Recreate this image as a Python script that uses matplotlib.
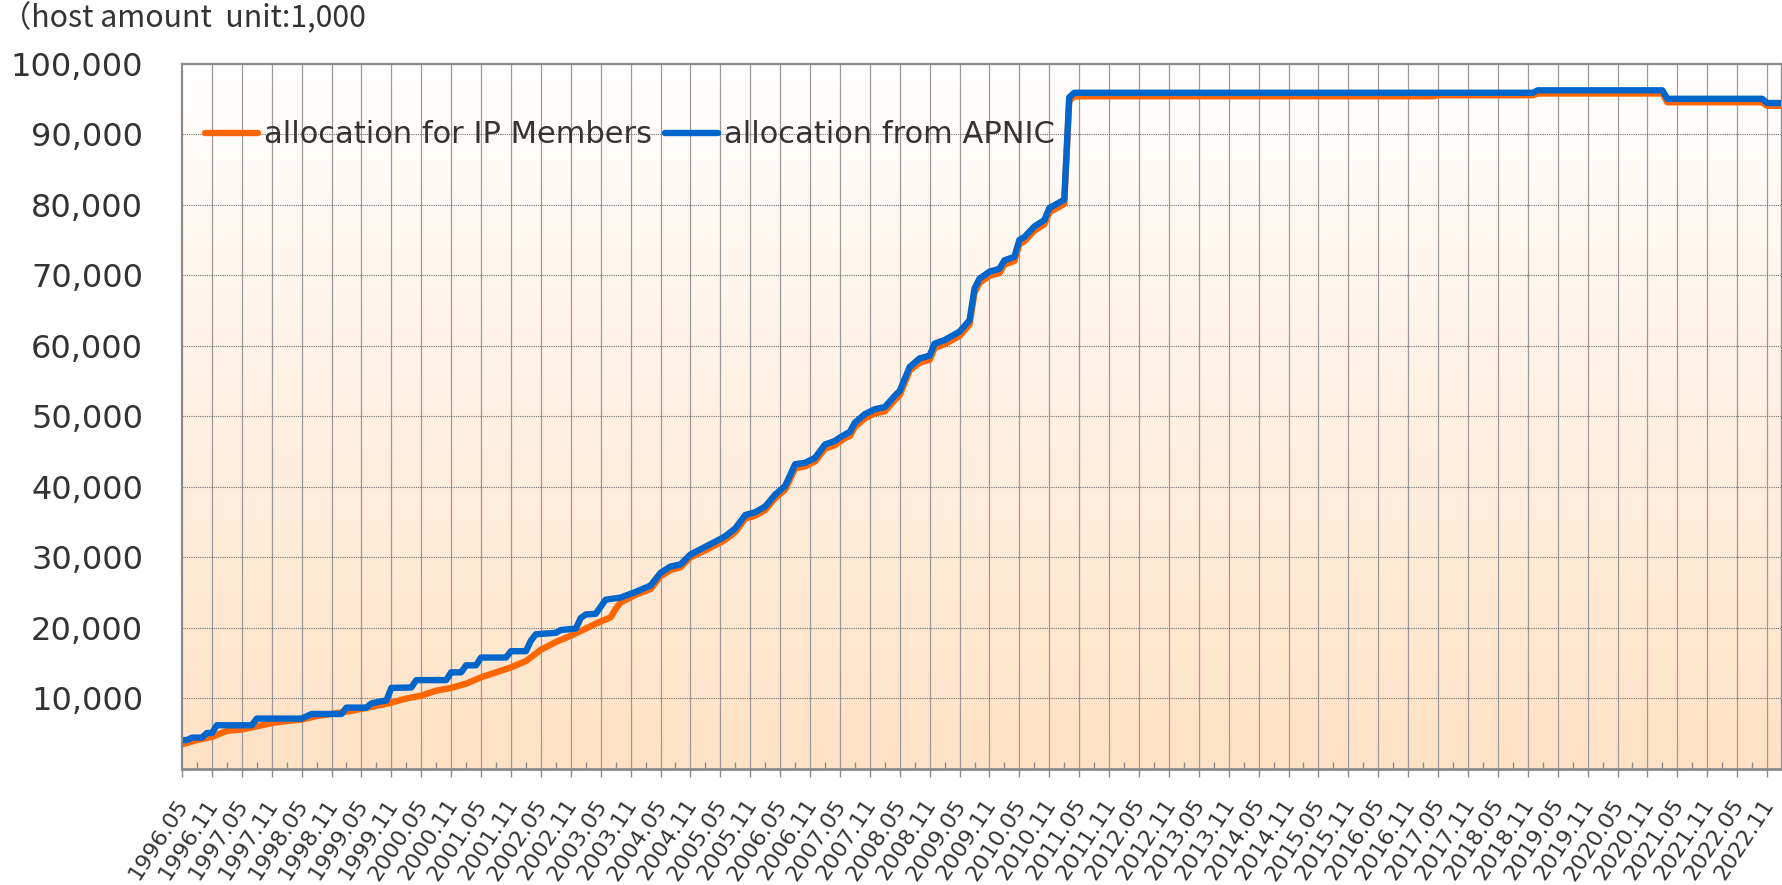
import matplotlib
matplotlib.use("Agg")
import matplotlib.pyplot as plt
import numpy as np
from matplotlib.ticker import FixedLocator, FuncFormatter
import matplotlib.transforms as mtransforms

# ---------------- data ----------------
title_text = "（host amount  unit:1,000"
series_names = ["allocation for IP Members", "allocation from APNIC"]

first_month = "1996.05"
last_month = "2023.02"

apnic_dates = [
    "1996.05", "1996.06", "1996.07", "1996.09", "1996.10", "1996.11", "1996.12",
    "1997.07", "1997.08", "1998.05", "1998.07", "1999.01", "1999.02", "1999.06",
    "1999.07", "1999.09", "1999.10", "1999.11", "2000.03", "2000.04", "2000.10",
    "2000.11", "2001.01", "2001.02", "2001.04", "2001.05", "2001.10", "2001.11",
    "2002.02", "2002.03", "2002.04", "2002.08", "2002.09", "2002.12", "2003.01",
    "2003.02", "2003.04", "2003.06", "2003.09", "2003.12", "2004.03", "2004.05",
    "2004.07", "2004.09", "2004.11", "2005.02", "2005.05", "2005.06", "2005.08",
    "2005.10", "2005.12", "2006.02", "2006.04", "2006.06", "2006.08", "2006.10",
    "2006.12", "2007.02", "2007.04", "2007.05", "2007.07", "2007.08", "2007.10",
    "2007.12", "2008.02", "2008.04", "2008.05", "2008.07", "2008.09", "2008.11",
    "2008.12", "2009.02", "2009.03", "2009.05", "2009.07", "2009.08", "2009.09",
    "2009.11", "2010.01", "2010.02", "2010.04", "2010.05", "2010.06", "2010.08",
    "2010.10", "2010.11", "2011.02", "2011.03", "2011.04", "2018.12", "2019.01",
    "2021.02", "2021.03", "2022.10", "2022.11", "2023.02",
]
apnic_values = [
    4100, 4100, 4450, 4450, 5100, 5100, 6200,
    6200, 7150, 7150, 7800, 7800, 8700, 8700,
    9300, 9600, 9700, 11500, 11550, 12600, 12600,
    13700, 13700, 14700, 14700, 15800, 15800, 16700,
    16700, 18200, 19100, 19300, 19700, 19900, 21400,
    21900, 22000, 24000, 24300, 25100, 26000, 27800,
    28700, 29000, 30400, 31500, 32600, 33000, 34100,
    36000, 36400, 37200, 38900, 40100, 43200, 43400,
    44100, 46000, 46500, 47000, 47800, 49100, 50300,
    51000, 51300, 52900, 53600, 57000, 58200, 58600,
    60300, 60800, 61200, 62000, 63600, 68100, 69500,
    70500, 70900, 72100, 72600, 75000, 75400, 76900,
    77800, 79500, 80700, 95200, 95850, 95850, 96200,
    96200, 95000, 95000, 94400, 94400,
]

members_dates = [
    "1996.05", "1996.08", "1996.11", "1997.02", "1997.05", "1997.07", "1997.09",
    "1997.11", "1998.02", "1998.05", "1998.08", "1998.11", "1999.03", "1999.07",
    "1999.11", "2000.02", "2000.05", "2000.08", "2000.11", "2001.02", "2001.05",
    "2001.08", "2001.11", "2002.02", "2002.05", "2002.08", "2002.11", "2003.02",
    "2003.04", "2003.07", "2003.08", "2003.09", "2003.12", "2004.03", "2004.05",
    "2004.07", "2004.09", "2004.11", "2005.02", "2005.05", "2005.06", "2005.08",
    "2005.10", "2005.12", "2006.02", "2006.04", "2006.06", "2006.08", "2006.10",
    "2006.12", "2007.02", "2007.04", "2007.06", "2007.07", "2007.08", "2007.10",
    "2007.12", "2008.02", "2008.04", "2008.05", "2008.07", "2008.09", "2008.11",
    "2008.12", "2009.02", "2009.03", "2009.05", "2009.07", "2009.08", "2009.09",
    "2009.11", "2010.01", "2010.02", "2010.04", "2010.05", "2010.06", "2010.08",
    "2010.10", "2010.11", "2011.02", "2011.03", "2011.04", "2017.04", "2017.05",
    "2018.12", "2019.01", "2021.02", "2021.03", "2022.10", "2022.11", "2023.02",
]
members_values = [
    3500, 4100, 4550, 5400, 5600, 5900, 6200,
    6500, 6800, 7000, 7500, 7800, 8250, 8800,
    9400, 10000, 10400, 11100, 11500, 12100, 13000,
    13700, 14400, 15300, 16900, 18000, 18900, 19900,
    20600, 21500, 22700, 23600, 24700, 25500, 27300,
    28200, 28600, 30000, 31000, 32100, 32500, 33600,
    35500, 35900, 36700, 38400, 39600, 42600, 42900,
    43600, 45400, 45900, 46900, 47200, 48500, 49700,
    50400, 50700, 52300, 53000, 56500, 57600, 58000,
    59700, 60200, 60600, 61400, 63000, 67500, 68900,
    69900, 70300, 71500, 72000, 74400, 74800, 76300,
    77200, 78900, 80100, 94700, 95350, 95350, 95500,
    95500, 95750, 95750, 94500, 94500, 94000, 94000,
]

y_ticks = [10000, 20000, 30000, 40000, 50000, 60000, 70000, 80000, 90000, 100000]

# ---------------- helpers ----------------
def month_index(s):
    y, m = s.split(".")
    y0, m0 = first_month.split(".")
    return (int(y) * 12 + int(m)) - (int(y0) * 12 + int(m0))

n_last = month_index(last_month)
major_pos = list(range(0, n_last + 1, 6))
major_labels = []
for p in major_pos:
    y0, m0 = first_month.split(".")
    tot = int(y0) * 12 + int(m0) - 1 + p
    major_labels.append(f"{tot // 12}.{tot % 12 + 1:02d}")
minor_pos = list(range(3, n_last + 1, 6))

# ---------------- figure ----------------
W, H = 1783, 885
fig = plt.figure(figsize=(W / 100, H / 100), dpi=100)
ax_left, ax_right, ax_top, ax_bottom = 182, 1782, 63.5, 769
ax = fig.add_axes([ax_left / W, 1 - ax_bottom / H,
                   (ax_right - ax_left) / W, (ax_bottom - ax_top) / H])

# gradient background
top_c = np.array([255, 255, 255]) / 255
bot_c = np.array([255, 226, 198]) / 255
t = np.linspace(0, 1, 256)[:, None]
grad = top_c[None, :] * (1 - t) + bot_c[None, :] * t
grad = np.repeat(grad[:, None, :], 2, axis=1)
ax.imshow(grad, extent=[0, 1, 0, 1], transform=ax.transAxes,
          aspect="auto", zorder=0, interpolation="bilinear")

ax.set_xlim(0, n_last)
ax.set_ylim(0, 100000)

# grid
for p in major_pos[1:]:
    ax.axvline(p, color="#9a9a9a", lw=0.9, zorder=1)
for v in y_ticks[:-1]:
    ax.axhline(v, color="#6f6f6f", lw=0.8, linestyle=(0, (1, 1)), zorder=1)

mx = [month_index(d) for d in members_dates]
bx = [month_index(d) for d in apnic_dates]
line_m, = ax.plot(mx, members_values, color="#FF6600", lw=4.6, zorder=3,
                  solid_joinstyle="round", solid_capstyle="round")
line_a, = ax.plot(bx, apnic_values, color="#0066CC", lw=4.6, zorder=4,
                  solid_joinstyle="round", solid_capstyle="round")

# spines
for s in ["left", "right", "top"]:
    ax.spines[s].set_color("#8a8a8a")
    ax.spines[s].set_linewidth(1.6)
ax.spines["bottom"].set_color("#8a8a8a")
ax.spines["bottom"].set_linewidth(2.0)
for s in ax.spines.values():
    s.set_zorder(5)

# y ticks
ax.yaxis.set_major_locator(FixedLocator(y_ticks))
ax.yaxis.set_major_formatter(FuncFormatter(lambda v, p: f"{int(v):,}"))
ax.tick_params(axis="y", length=0, pad=28, labelsize=23, labelcolor="#333333")

# x ticks
ax.xaxis.set_major_locator(FixedLocator(major_pos))
ax.xaxis.set_minor_locator(FixedLocator(minor_pos))
ax.set_xticklabels(major_labels)
ax.tick_params(axis="x", which="major", direction="out", length=6, width=1,
               color="#8a8a8a", pad=17, labelsize=16, labelcolor="#333333")
ax.tick_params(axis="x", which="minor", direction="in", length=5, width=1,
               color="#8a8a8a")
offset = mtransforms.ScaledTranslation(2 / 100, 0, fig.dpi_scale_trans)
for lab in ax.get_xticklabels():
    lab.set_rotation(57)
    lab.set_rotation_mode("anchor")
    lab.set_ha("right")
    lab.set_va("center")
    lab.set_transform(lab.get_transform() + offset)

# legend (two entries placed where the reference has them)
leg_y = 0.8987
leg_kw = dict(loc="center left", frameon=False, fontsize=22, handlelength=1.75,
              handletextpad=0.18, borderpad=0, borderaxespad=0)
leg1 = ax.legend([line_m], [series_names[0]],
                 bbox_to_anchor=((205 - ax_left) / (ax_right - ax_left), leg_y), **leg_kw)
ax.add_artist(leg1)
leg2 = ax.legend([line_a], [series_names[1]],
                 bbox_to_anchor=((665 - ax_left) / (ax_right - ax_left), leg_y), **leg_kw)
for lg in (leg1, leg2):
    lg.set_zorder(6)
    for txt in lg.get_texts():
        txt.set_color("#333333")

# title in a Japanese font (has both the full-width bracket and Latin glyphs)
title = fig.text(1 / W, 1 - 18 / H, title_text, fontsize=21, color="#333333",
                 va="center", ha="left", family=["Noto Sans CJK JP", "DejaVu Sans"])
fig.canvas.draw()
bb = title.get_window_extent()
target_right = 366
new_size = 21 * (target_right - bb.x0) / max(bb.width, 1)
title.set_fontsize(min(max(new_size, 16), 26))

fig.savefig("out.png", dpi=100)
